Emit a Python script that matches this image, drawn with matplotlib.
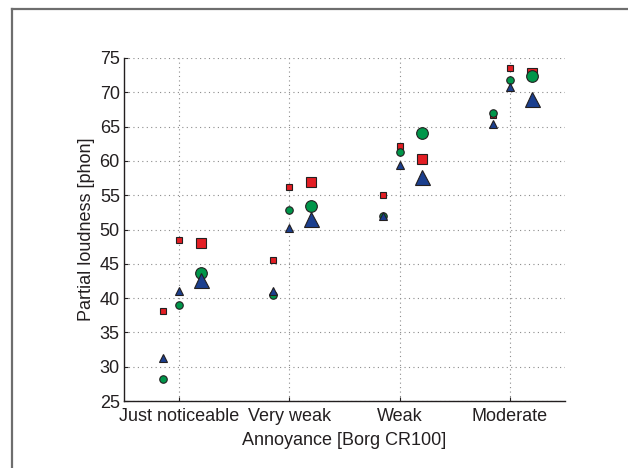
import matplotlib
matplotlib.use('Agg')
import matplotlib.pyplot as plt
from matplotlib.lines import Line2D

# Categorias del eje x
categorias = ['Just noticeable', 'Very weak', 'Weak', 'Moderate']

# Valores: tres grupos por categoria (izquierda, centro, derecha)
# grupo izquierdo (marcadores pequenos)
cuadrado_izq = [38.1, 45.6, 55.0, 66.7]
circulo_izq = [28.2, 40.5, 52.0, 67.0]
triangulo_izq = [31.2, 41.0, 51.9, 65.4]
# grupo central (marcadores pequenos)
cuadrado_cen = [48.5, 56.2, 62.2, 73.5]
circulo_cen = [39.0, 52.8, 61.3, 71.8]
triangulo_cen = [41.1, 50.2, 59.4, 70.7]
# grupo derecho (marcadores grandes)
cuadrado_der = [48.0, 56.9, 60.3, 72.8]
circulo_der = [43.7, 53.4, 64.1, 72.4]
triangulo_der = [42.6, 51.5, 57.6, 69.0]

rojo = '#e31e24'
verde = '#00964a'
azul = '#1b3f8e'
texto = '#231f20'

plt.rcParams['font.family'] = ['Liberation Sans', 'DejaVu Sans']

fig = plt.figure(figsize=(6.28, 4.68), dpi=100)
ax = fig.add_axes([124 / 628, 1 - 401 / 468, 441 / 628, 343 / 468])

# Marco gris alrededor de la figura
fig.add_artist(Line2D([12 / 628, 12 / 628], [0, 1 - 9 / 468], color='#6e6e6e', lw=1.6))
fig.add_artist(Line2D([12 / 628, 1], [1 - 9 / 468, 1 - 9 / 468], color='#6e6e6e', lw=1.6))

x = [1, 2, 3, 4]
grupos = [
    (-0.15, cuadrado_izq, circulo_izq, triangulo_izq, 4.8, 5.4, 6.4),
    (0.0, cuadrado_cen, circulo_cen, triangulo_cen, 4.8, 5.4, 6.4),
    (0.2, cuadrado_der, circulo_der, triangulo_der, 7.2, 8.4, 10.8),
]
for desp, cuad, circ, tri, ms_c, ms_o, ms_t in grupos:
    xs = [v + desp for v in x]
    ax.plot(xs, cuad, 's', color=rojo, mec='#231f20', mew=0.8, ms=ms_c, zorder=3)
    ax.plot(xs, circ, 'o', color=verde, mec='#231f20', mew=0.8, ms=ms_o, zorder=4)
    ax.plot(xs, tri, '^', color=azul, mec='#231f20', mew=0.8, ms=ms_t, zorder=5)

ax.set_xlim(0.5, 4.5)
ax.set_ylim(25, 75)
ax.set_xticks(x)
ax.set_xticklabels(categorias)
ax.set_yticks(range(25, 80, 5))

ax.grid(True, linestyle=(0, (1, 3)), color='#8c8c8c', linewidth=0.8)
ax.set_axisbelow(True)
for lado in ['top', 'right']:
    ax.spines[lado].set_visible(False)
for lado in ['left', 'bottom']:
    ax.spines[lado].set_color('#231f20')
    ax.spines[lado].set_linewidth(1.0)
ax.tick_params(direction='in', length=3, colors='#231f20', labelcolor=texto, labelsize=13)
ax.tick_params(axis='x', pad=5)
ax.tick_params(axis='y', pad=3)

ax.set_xlabel('Annoyance [Borg CR100]', fontsize=13, color=texto, labelpad=5)
ax.set_ylabel('Partial loudness [phon]', fontsize=13, color=texto, labelpad=3)

fig.savefig('out.png', dpi=100)
